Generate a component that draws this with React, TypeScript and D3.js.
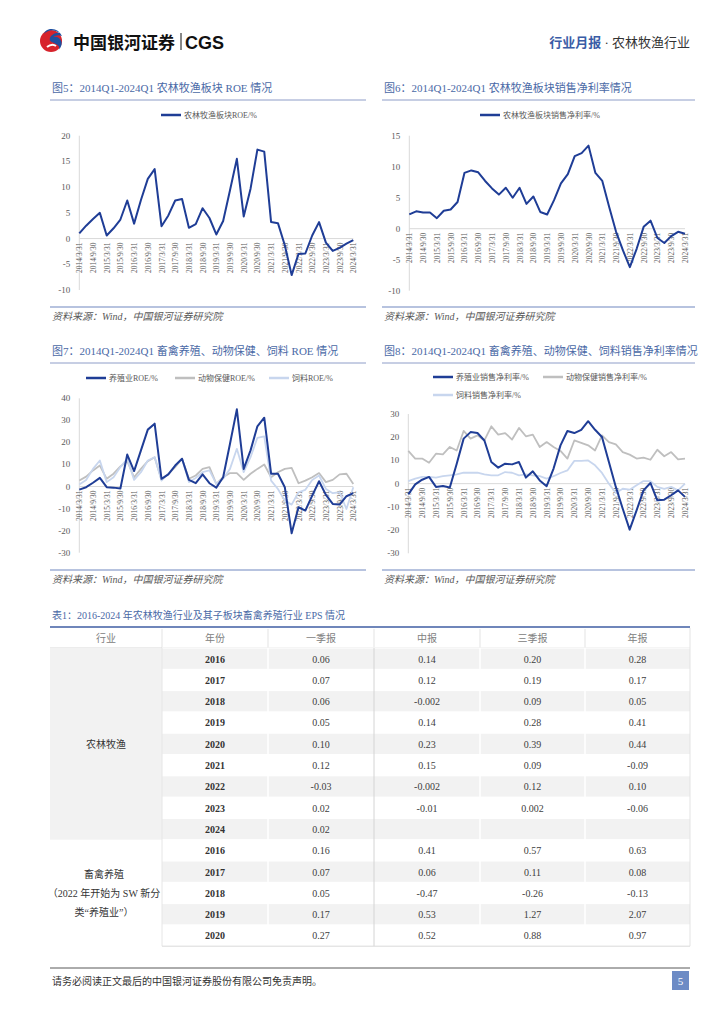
import React from 'react';
import * as d3 from 'd3';

// quarters 2014Q1 .. 2024Q1
const quarters = [
  '2014Q1', '2014Q2', '2014Q3', '2014Q4', '2015Q1', '2015Q2', '2015Q3', '2015Q4',
  '2016Q1', '2016Q2', '2016Q3', '2016Q4', '2017Q1', '2017Q2', '2017Q3', '2017Q4',
  '2018Q1', '2018Q2', '2018Q3', '2018Q4', '2019Q1', '2019Q2', '2019Q3', '2019Q4',
  '2020Q1', '2020Q2', '2020Q3', '2020Q4', '2021Q1', '2021Q2', '2021Q3', '2021Q4',
  '2022Q1', '2022Q2', '2022Q3', '2022Q4', '2023Q1', '2023Q2', '2023Q3', '2023Q4',
  '2024Q1',
];

const xTickLabels = [
  '2014/3/31', '2014/9/30', '2015/3/31', '2015/9/30', '2016/3/31', '2016/9/30',
  '2017/3/31', '2017/9/30', '2018/3/31', '2018/9/30', '2019/3/31', '2019/9/30',
  '2020/3/31', '2020/9/30', '2021/3/31', '2021/9/30', '2022/3/31', '2022/9/30',
  '2023/3/31', '2023/9/30', '2024/3/31',
];

// 图5 农林牧渔板块ROE
const agriRoe = [
  1.0, 2.5, 3.8, 5.0, 0.6, 2.0, 3.7, 7.4, 2.9, 7.5, 11.6, 13.5, 2.4, 4.5, 7.4, 7.7,
  2.1, 2.8, 5.9, 4.0, 0.8, 3.4, 9.4, 15.5, 4.3, 9.7, 17.3, 16.9, 3.2, 3.0, -1.3, -7.1,
  -3.0, -2.9, 0.6, 3.2, -0.8, -2.4, -1.8, -1.0, -0.3,
];

// 图6 农林牧渔板块销售净利率
const agriMargin = [
  2.3, 2.8, 2.6, 2.6, 1.7, 2.9, 3.1, 4.3, 9.0, 9.4, 9.1, 7.7, 6.5, 5.5, 6.6, 5.0,
  6.6, 4.0, 5.2, 2.7, 2.3, 4.6, 7.3, 8.8, 11.7, 12.2, 13.4, 9.0, 7.7, 3.5, -0.5, -3.5,
  -6.2, -3.2, 0.3, 1.3, -1.5, -2.3, -1.2, -0.5, -0.8,
];

// 图7 ROE
const breedRoe = [
  -1.4, -0.3, 1.7, 3.9, -0.3, -0.5, -0.9, 14.5, 7.0, 16.4, 25.8, 28.5, 3.5, 5.5, 9.5, 12.6,
  3.0, 1.5, 5.5, 1.5, -0.5, 4.2, 19.4, 35.0, 8.0, 16.4, 27.3, 31.2, 5.8, 5.8, -0.3, -21.2,
  -9.4, -10.9, -4.1, 2.4, -3.8, -7.9, -8.2, -4.4, -3.0,
];
const vetRoe = [
  2.7, 4.5, 7.3, 9.5, 3.5, 5.8, 9.1, 11.5, 4.2, 8.0, 11.5, 13.3, 3.0, 5.8, 8.8, 12.6,
  3.5, 5.0, 8.0, 8.8, 1.2, 4.2, 6.1, 6.1, 3.0, 5.8, 8.0, 10.0, 4.2, 6.5, 8.0, 8.5,
  1.5, 2.7, 4.2, 6.1, 2.0, 3.0, 5.5, 5.8, 1.2,
];
const feedRoe = [
  0.9, 3.0, 8.0, 11.8, 2.0, 4.2, 8.8, 12.6, 3.0, 6.5, 11.8, 13.3, 2.7, 5.8, 9.5, 12.6,
  2.0, 3.9, 6.5, 7.3, 1.2, 3.5, 8.0, 17.1, 6.5, 13.3, 22.1, 22.7, 2.7, -1.1, -6.4, -8.2,
  -2.6, -1.5, 3.0, 5.0, -1.1, -3.0, -2.6, -10.2, -0.3,
];

// 图8 销售净利率
const breedMargin = [
  -4.6, -0.3, 1.7, 2.9, -1.4, -1.0, -1.7, 8.6, 19.4, 22.2, 21.8, 18.6, 9.3, 6.9, 8.6, 8.3,
  9.3, 2.6, 5.3, 1.4, -1.1, 6.5, 16.5, 22.7, 21.8, 23.2, 26.9, 23.2, 20.1, 9.3, -1.4, -10.8,
  -19.8, -11.5, -2.9, 0.3, -7.2, -6.9, -5.0, -2.9, -5.7,
];
const vetMargin = [
  14.1, 10.8, 10.8, 9.0, 12.9, 12.6, 15.8, 14.3, 22.7, 19.4, 20.8, 18.6, 24.7, 21.1, 21.8, 19.0,
  24.0, 20.4, 21.1, 15.8, 17.9, 15.8, 14.1, 10.8, 18.6, 17.6, 16.5, 14.3, 20.8, 17.9, 16.9, 13.6,
  12.5, 10.8, 11.2, 10.3, 14.6, 11.8, 13.6, 10.5, 10.8,
];
const feedMargin = [
  1.1, 2.2, 2.9, 2.9, 2.6, 3.2, 3.6, 4.0, 4.7, 4.7, 4.7, 4.0, 3.6, 3.6, 5.0, 4.7,
  3.6, 4.0, 3.6, 3.2, 2.2, 3.2, 4.6, 5.7, 9.8, 9.8, 10.0, 7.9, 4.6, 0.0, -4.0, -2.2,
  -2.6, -0.7, 1.1, 1.1, -1.4, -2.2, -1.4, -2.9, 0.0,
];

// 表1
const tableHeaders = ['行业', '年份', '一季报', '中报', '三季报', '年报'];
const agriYears = ['2016', '2017', '2018', '2019', '2020', '2021', '2022', '2023', '2024'];
const agriEps = [
  ['0.06', '0.14', '0.20', '0.28'],
  ['0.07', '0.12', '0.19', '0.17'],
  ['0.06', '-0.002', '0.09', '0.05'],
  ['0.05', '0.14', '0.28', '0.41'],
  ['0.10', '0.23', '0.39', '0.44'],
  ['0.12', '0.15', '0.09', '-0.09'],
  ['-0.03', '-0.002', '0.12', '0.10'],
  ['0.02', '-0.01', '0.002', '-0.06'],
  ['0.02', '', '', ''],
];
const breedYears = ['2016', '2017', '2018', '2019', '2020'];
const breedEps = [
  ['0.16', '0.41', '0.57', '0.63'],
  ['0.07', '0.06', '0.11', '0.08'],
  ['0.05', '-0.47', '-0.26', '-0.13'],
  ['0.17', '0.53', '1.27', '2.07'],
  ['0.27', '0.52', '0.88', '0.97'],
];

const DARK = '#1f3d96';
const GRAY = '#bfbfbf';
const LIGHT = '#c8d6ee';
const TITLE = '#4a69a6';
const SERIF = "'Liberation Serif', 'DejaVu Serif', 'Noto Sans CJK SC', serif";
const CJK = "'Liberation Serif', 'Noto Sans CJK SC', serif";

interface Series {
  name: string;
  values: number[];
  color: string;
  width: number;
}

interface LegendItem {
  name: string;
  color: string;
  x: number;
  y: number;
}

interface PanelProps {
  left: number;
  right: number;
  top: number;
  title: string;
  series: Series[];
  legend: LegendItem[];
  domain: [number, number];
  step: number;
  plot: { x0: number; x1: number; y0: number; y1: number };
}

const Panel: React.FC<PanelProps> = ({ left, right, top, title, series, legend, domain, step, plot }) => {
  const x = d3.scalePoint<string>().domain(quarters).range([plot.x0, plot.x1]);
  const y = d3.scaleLinear().domain(domain).range([plot.y1, plot.y0]);
  const ticks = d3.range(domain[0], domain[1] + step / 2, step);
  const line = d3
    .line<number>()
    .x((_, i) => x(quarters[i]) as number)
    .y(d => y(d));
  const zeroY = y(0);
  const sourceY = top + 225;

  return (
    <g>
      <text x={left + 2} y={top} fontFamily={CJK} fontSize={11} fill={TITLE}>
        {title}
      </text>
      <line x1={left} x2={right} y1={top + 8} y2={top + 8} stroke="#8e9dc8" strokeWidth={1} />

      {legend.map(l => (
        <g key={l.name}>
          <line x1={l.x} x2={l.x + 20} y1={l.y} y2={l.y} stroke={l.color} strokeWidth={2.5} />
          <text x={l.x + 23} y={l.y + 3} fontFamily={CJK} fontSize={8} fill="#595959">
            {l.name}
          </text>
        </g>
      ))}

      <line x1={plot.x0} x2={plot.x0} y1={plot.y0} y2={plot.y1} stroke="#d9d9d9" strokeWidth={1} />
      <line x1={plot.x0} x2={plot.x1} y1={zeroY} y2={zeroY} stroke="#d9d9d9" strokeWidth={1} />

      {ticks.map(t => (
        <text
          key={t}
          x={plot.x0 - 9}
          y={y(t) + 3}
          textAnchor="end"
          fontFamily={SERIF}
          fontSize={9}
          fill="#595959"
        >
          {t}
        </text>
      ))}

      {xTickLabels.map((lab, k) => {
        const px = x(quarters[k * 2]) as number;
        return (
          <text
            key={lab}
            transform={`translate(${px + 3},${zeroY + 4}) rotate(-90)`}
            textAnchor="end"
            fontFamily={SERIF}
            fontSize={7.5}
            fill="#595959"
          >
            {lab}
          </text>
        );
      })}

      {series.map(s => (
        <path
          key={s.name}
          d={line(s.values) ?? ''}
          fill="none"
          stroke={s.color}
          strokeWidth={s.width}
          strokeLinejoin="round"
        />
      ))}

      <line x1={left} x2={right} y1={sourceY - 10} y2={sourceY - 10} stroke="#b7c3df" strokeWidth={2} />
      <text x={left + 2} y={sourceY + 3} fontFamily={CJK} fontSize={10} fontStyle="italic" fill="#595959">
        资料来源：Wind，中国银河证券研究院
      </text>
    </g>
  );
};

const colX = [50, 162, 268, 374, 480, 585, 690];
const headTop = 628;
const rowH = 21.3;

const Table: React.FC = () => {
  const rows = [
    ...agriYears.map((yr, i) => ({ yr, vals: agriEps[i], group: 0, shade: i % 2 === 0 })),
    ...breedYears.map((yr, i) => ({ yr, vals: breedEps[i], group: 1, shade: i % 2 === 1 })),
  ];
  const bodyTop = headTop + 20;
  const g1Bottom = bodyTop + agriYears.length * rowH;
  const end = bodyTop + rows.length * rowH;
  return (
    <g fontFamily={CJK}>
      <text x={52} y={619} fontSize={10} fill={TITLE}>
        表1：2016-2024 年农林牧渔行业及其子板块畜禽养殖行业 EPS 情况
      </text>
      <line x1={50} x2={690} y1={headTop - 1} y2={headTop - 1} stroke="#6f86ba" strokeWidth={2} />
      {tableHeaders.map((h, c) => (
        <text
          key={h}
          x={(colX[c] + colX[c + 1]) / 2}
          y={headTop + 14}
          textAnchor="middle"
          fontSize={10}
          fill="#808080"
        >
          {h}
        </text>
      ))}
      {colX.slice(1, -1).map(cx => (
        <line key={cx} x1={cx} x2={cx} y1={headTop + 1} y2={bodyTop} stroke="#e3e3e3" />
      ))}
      <line x1={50} x2={690} y1={bodyTop} y2={bodyTop} stroke="#d9d9d9" />

      <rect x={colX[0]} y={bodyTop} width={colX[1] - colX[0]} height={g1Bottom - bodyTop} fill="#f2f2f2" />

      {rows.map((r, i) => {
        const ry = bodyTop + i * rowH;
        return (
          <g key={`${r.group}-${r.yr}`}>
            <rect
              x={colX[1]}
              y={ry}
              width={colX[6] - colX[1]}
              height={rowH}
              fill={r.shade ? '#f2f2f2' : '#ffffff'}
            />
            <line x1={colX[1]} x2={colX[6]} y1={ry} y2={ry} stroke="#ffffff" strokeWidth={1} />
            <text
              x={(colX[1] + colX[2]) / 2}
              y={ry + 14.5}
              textAnchor="middle"
              fontSize={10}
              fontWeight="bold"
              fill="#333333"
            >
              {r.yr}
            </text>
            {r.vals.map((v, c) => (
              <text
                key={c}
                x={(colX[c + 2] + colX[c + 3]) / 2}
                y={ry + 14.5}
                textAnchor="middle"
                fontSize={10}
                fill="#404040"
              >
                {v}
              </text>
            ))}
          </g>
        );
      })}

      {[colX[2], colX[4], colX[5]].map(cx => (
        <line key={cx} x1={cx} x2={cx} y1={bodyTop} y2={end} stroke="#ffffff" strokeWidth={1.5} />
      ))}
      <line x1={colX[1]} x2={colX[1]} y1={bodyTop} y2={end} stroke="#e6e6e6" strokeWidth={1} />
      <line x1={colX[3]} x2={colX[3]} y1={bodyTop} y2={end} stroke="#d4d4d4" strokeWidth={1} />
      <line x1={colX[6]} x2={colX[6]} y1={headTop} y2={end} stroke="#e3e3e3" strokeWidth={1} />
      <line x1={colX[1]} x2={colX[6]} y1={end} y2={end} stroke="#d9d9d9" strokeWidth={1} />

      <text x={(colX[0] + colX[1]) / 2} y={(bodyTop + g1Bottom) / 2 + 4} textAnchor="middle" fontSize={10} fill="#333333">
        农林牧渔
      </text>
      {['畜禽养殖', '（2022 年开始为 SW 新分', '类“养殖业”）'].map((t, i) => (
        <text
          key={t}
          x={(colX[0] + colX[1]) / 2 - 2}
          y={878 + i * 19}
          textAnchor="middle"
          fontSize={10}
          fill="#333333"
        >
          {t}
        </text>
      ))}
    </g>
  );
};

const App: React.FC = () => {
  return (
    <svg
      width={724}
      height={1024}
      style={{ position: 'absolute', left: 0, top: 0, background: '#ffffff' }}
    >
      <rect width={724} height={1024} fill="#ffffff" />

      {/* header */}
      <g>
        <circle cx={51} cy={41} r={11} fill="#d7232c" />
        <path d="M 44 34 Q 51 27 60 33 Q 55 32 51 36 Q 47 41 54 43 Q 62 46 58 51 Q 64 44 60 39 Q 56 35 52 38 Q 56 34 62 36 Q 58 28 50 29 Q 45 30 44 34 Z" fill="#1d4fa0" />
        <path d="M 47 47 Q 52 43 56 46" stroke="#ffffff" strokeWidth={2} fill="none" />
        <text x={73} y={49} fontFamily="'Noto Sans CJK SC', sans-serif" fontWeight="bold" fontSize={17} fill="#111111">
          中国银河证券
        </text>
        <line x1={181} x2={181} y1={33} y2={50} stroke="#111111" strokeWidth={1} />
        <text x={185} y={49} fontFamily="'Liberation Sans', Arial, sans-serif" fontWeight="bold" fontSize={18} fill="#111111">
          CGS
        </text>
        <text x={690} y={47} textAnchor="end" fontFamily={CJK} fontSize={13}>
          <tspan fill="#3a5ca6" fontWeight="bold">行业月报</tspan>
          <tspan fill="#333333"> · 农林牧渔行业</tspan>
        </text>
      </g>

      <Panel
        left={50}
        right={366}
        top={92}
        title="图5：2014Q1-2024Q1 农林牧渔板块 ROE 情况"
        domain={[-10, 20]}
        step={5}
        plot={{ x0: 79.3, x1: 353.3, y0: 135.7, y1: 290 }}
        series={[{ name: 'a', values: agriRoe, color: DARK, width: 2 }]}
        legend={[{ name: '农林牧渔板块ROE/%', color: DARK, x: 161, y: 115 }]}
      />
      <Panel
        left={382}
        right={695}
        top={92}
        title="图6：2014Q1-2024Q1 农林牧渔板块销售净利率情况"
        domain={[-10, 15]}
        step={5}
        plot={{ x0: 409.3, x1: 685, y0: 135.7, y1: 290.7 }}
        series={[{ name: 'a', values: agriMargin, color: DARK, width: 2 }]}
        legend={[{ name: '农林牧渔板块销售净利率/%', color: DARK, x: 480, y: 115 }]}
      />
      <Panel
        left={50}
        right={366}
        top={355}
        title="图7：2014Q1-2024Q1 畜禽养殖、动物保健、饲料 ROE 情况"
        domain={[-30, 40]}
        step={10}
        plot={{ x0: 79.3, x1: 353.3, y0: 398.3, y1: 552.7 }}
        series={[
          { name: 'vet', values: vetRoe, color: GRAY, width: 1.8 },
          { name: 'feed', values: feedRoe, color: LIGHT, width: 1.8 },
          { name: 'breed', values: breedRoe, color: DARK, width: 2 },
        ]}
        legend={[
          { name: '养殖业ROE/%', color: DARK, x: 86, y: 378 },
          { name: '动物保健ROE/%', color: GRAY, x: 175, y: 378 },
          { name: '饲料ROE/%', color: LIGHT, x: 269, y: 378 },
        ]}
      />
      <Panel
        left={382}
        right={695}
        top={355}
        title="图8：2014Q1-2024Q1 畜禽养殖、动物保健、饲料销售净利率情况"
        domain={[-30, 30]}
        step={10}
        plot={{ x0: 408.3, x1: 685, y0: 414, y1: 553.3 }}
        series={[
          { name: 'vet', values: vetMargin, color: GRAY, width: 1.8 },
          { name: 'feed', values: feedMargin, color: LIGHT, width: 1.8 },
          { name: 'breed', values: breedMargin, color: DARK, width: 2 },
        ]}
        legend={[
          { name: '养殖业销售净利率/%', color: DARK, x: 433, y: 377 },
          { name: '动物保健销售净利率/%', color: GRAY, x: 543, y: 377 },
          { name: '饲料销售净利率/%', color: LIGHT, x: 433, y: 395 },
        ]}
      />

      <Table />

      {/* footer */}
      <line x1={50} x2={690} y1={968} y2={968} stroke="#595959" strokeWidth={1} />
      <text x={52} y={985} fontFamily={CJK} fontSize={10} fill="#333333">
        请务必阅读正文最后的中国银河证券股份有限公司免责声明。
      </text>
      <rect x={672} y={971} width={17} height={19} fill="#6d8bc5" />
      <text x={680.5} y={984.5} textAnchor="middle" fontFamily={SERIF} fontSize={11} fill="#ffffff">
        5
      </text>
    </svg>
  );
};

export default App;
